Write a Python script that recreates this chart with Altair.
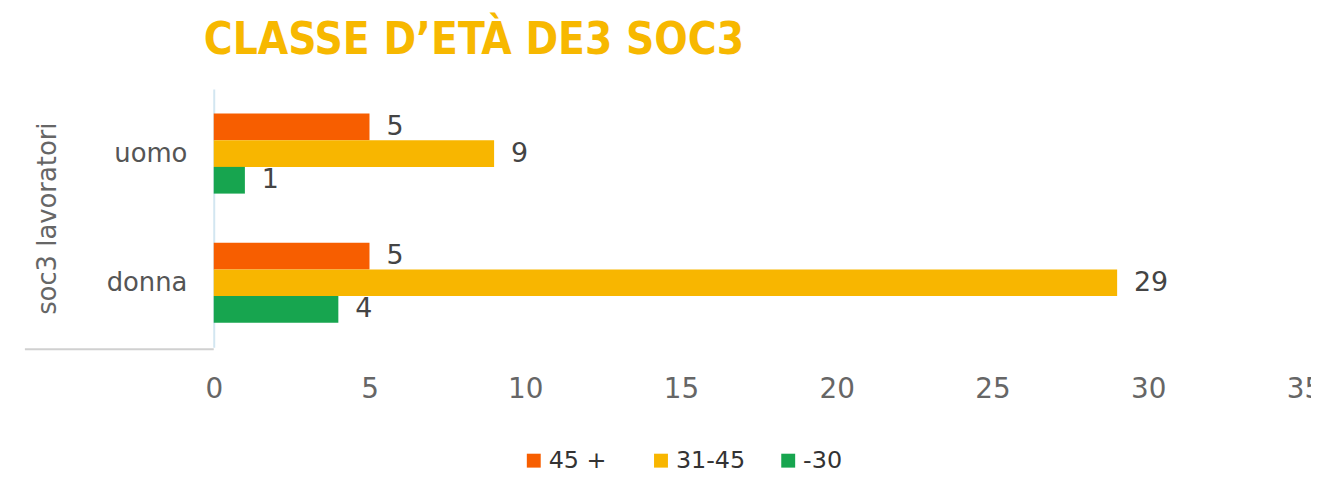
import altair as alt
import pandas as pd

# ---- data ----
groups = ["uomo", "donna"]
ages = ["45 +", "31-45", "-30"]
uomo_vals = [5, 9, 1]
donna_vals = [5, 29, 4]
colors = ["#F75E00", "#F8B600", "#17A54F"]
x_ticks = [0, 5, 10, 15, 20, 25, 30, 35]

rows = []
for g, vals in zip(groups, [uomo_vals, donna_vals]):
    for a, v in zip(ages, vals):
        rows.append({"sesso": g, "eta": a, "n": v})
df = pd.DataFrame(rows)

FONT = "DejaVu Sans"
W, H = 1097, 260

y_enc = alt.Y(
    "sesso:N",
    sort=groups,
    scale=alt.Scale(paddingInner=0.38, paddingOuter=0.19),
    axis=alt.Axis(
        title="soc3 lavoratori",
        titleFont=FONT,
        titleFontSize=26,
        titleFontWeight="normal",
        titleColor="#666666",
        titleX=-167,
        titleY=H / 2,
        titleAngle=-90,
        titleAlign="center",
        titleBaseline="middle",
        labelFont=FONT,
        labelFontSize=26,
        labelColor="#555555",
        labelPadding=27,
        ticks=False,
        domainColor="#D3E6F1",
        domainWidth=2,
    ),
)
yoff = alt.YOffset("eta:N", sort=ages, scale=alt.Scale(paddingInner=0, paddingOuter=0))
x_enc = alt.X(
    "n:Q",
    scale=alt.Scale(domain=[0, 35], nice=False),
    axis=alt.Axis(
        title=None,
        values=x_ticks,
        grid=False,
        domain=False,
        ticks=False,
        labelFlush=False,
        labelFont=FONT,
        labelFontSize=28,
        labelColor="#666666",
        labelPadding=28,
    ),
)

bars = alt.Chart(df).mark_bar().encode(
    y=y_enc,
    yOffset=yoff,
    x=x_enc,
    color=alt.Color(
        "eta:N",
        sort=ages,
        scale=alt.Scale(domain=ages, range=colors),
        legend=alt.Legend(
            title=None,
            orient="none",
            legendX=310,
            legendY=362,
            direction="horizontal",
            symbolType="square",
            symbolSize=196,
            symbolStrokeWidth=0,
            labelFont=FONT,
            labelFontSize=24,
            labelColor="#333333",
            labelOffset=3,
            columnPadding=31,
            gridAlign="all",
        ),
    ),
)

labels = alt.Chart(df).mark_text(
    align="left", baseline="middle", dx=17, font=FONT, fontSize=27, color="#444444"
).encode(y=alt.Y("sesso:N", sort=groups), yOffset=yoff, x=alt.X("n:Q"), text="n:Q")

frame_line = alt.Chart(pd.DataFrame({"a": [0]})).mark_rule(
    color="#D0D0D0", strokeWidth=2
).encode(x=alt.value(-190), x2=alt.value(0), y=alt.value(H + 2))

chart = (
    alt.layer(bars, labels, frame_line)
    .properties(
        width=W,
        height=H,
        background="white",
        autosize=alt.AutoSizeParams(type="none"),
        padding={"left": 207, "top": 80, "right": 7, "bottom": 130},
        title=alt.TitleParams(
            "CLASSE D’ETÀ DE3 SOC3",
            anchor="start",
            frame="group",
            font="DejaVu Sans Condensed, DejaVu Sans",
            fontSize=44,
            fontWeight="bold",
            color="#F7B800",
            baseline="alphabetic",
            offset=30,
            dx=-10,
            dy=39,
        ),
    )
    .configure_view(strokeWidth=0, stroke=None)
)

chart.save("out.html", embed_options={"renderer": "svg", "actions": False})
